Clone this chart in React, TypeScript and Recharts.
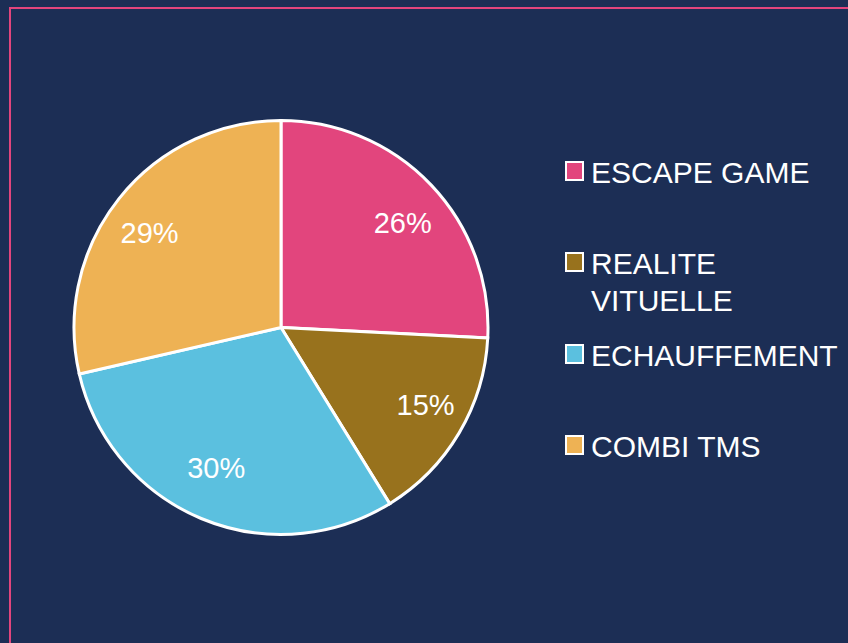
import React from "react";
import { PieChart, Pie, Cell, Legend } from "recharts";

const CATEGORIES = ["ESCAPE GAME", "REALITE VITUELLE", "ECHAUFFEMENT", "COMBI TMS"];
const VALUES = [25.8, 15.4, 30.2, 28.6];
const COLORS = ["#E2457D", "#98721D", "#5BC0DF", "#EEB254"];

const data = CATEGORIES.map((name, i) => ({ name, value: VALUES[i] }));

const BG = "#1C2E55";
const FONT = "'Liberation Sans', Arial, sans-serif";
const RAD = Math.PI / 180;

const renderLabel = (props: any) => {
  const { cx, cy, midAngle, percent } = props;
  const rx = 168;
  const ry = 152;
  const x = cx + rx * Math.cos(-midAngle * RAD);
  const y = cy + ry * Math.sin(-midAngle * RAD);
  return (
    <text
      x={x}
      y={y}
      fill="#FFFFFF"
      textAnchor="middle"
      dominantBaseline="central"
      fontFamily={FONT}
      fontSize={29}
    >
      {`${Math.round(percent * 100)}%`}
    </text>
  );
};

const renderLegend = () => {
  return (
    <div style={{ fontFamily: FONT }}>
      {CATEGORIES.map((name, i) => (
        <div key={name} style={{ display: "flex", alignItems: "flex-start", height: 91.5 }}>
          <div
            style={{
              width: 19,
              height: 20,
              boxSizing: "border-box",
              border: "2.5px solid #FFFFFF",
              background: COLORS[i],
              marginTop: 7.4,
              marginRight: 7,
              flex: "0 0 auto",
            }}
          />
          <div
            style={{
              color: "#FFFFFF",
              fontSize: 30,
              lineHeight: "37px",
              width: 245,
              whiteSpace: "normal",
            }}
          >
            {name}
          </div>
        </div>
      ))}
    </div>
  );
};

export default function App() {
  return (
    <div
      style={{
        position: "fixed",
        left: 0,
        top: 0,
        width: 848,
        height: 643,
        background: BG,
        overflow: "hidden",
      }}
    >
      <div
        style={{
          position: "absolute",
          left: 9,
          top: 7,
          width: 900,
          height: 700,
          borderTop: "2px solid #E2457D",
          borderLeft: "2px solid #E2457D",
        }}
      />
      <div style={{ position: "absolute", left: 0, top: 0 }}>
        <PieChart width={848} height={643} margin={{ top: 0, right: 0, bottom: 0, left: 0 }}>
          <Pie
            data={data}
            dataKey="value"
            nameKey="name"
            cx={281}
            cy={327.5}
            outerRadius={207}
            startAngle={90}
            endAngle={-270}
            stroke="#FFFFFF"
            strokeWidth={3}
            label={renderLabel}
            labelLine={false}
            isAnimationActive={false}
          >
            {data.map((d, i) => (
              <Cell key={d.name} fill={COLORS[i]} />
            ))}
          </Pie>
          <Legend
            layout="vertical"
            content={renderLegend}
            wrapperStyle={{ position: "absolute", left: 565, top: 153.6, width: 280 }}
          />
        </PieChart>
      </div>
    </div>
  );
}
